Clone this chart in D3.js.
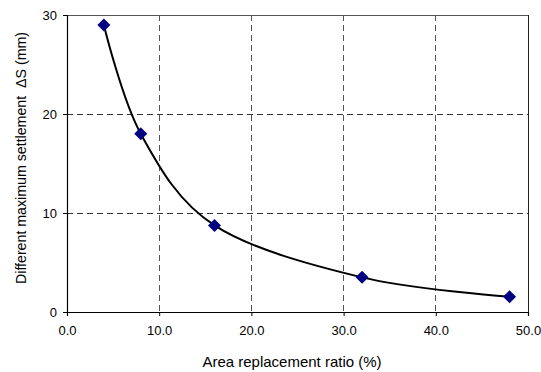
<!DOCTYPE html>
<html><head><meta charset="utf-8">
<script src="https://cdn.jsdelivr.net/npm/d3@7"></script>
<style>body{margin:0;background:#fff}svg{display:block}text{font-family:"Liberation Sans",Arial,sans-serif;fill:#000}</style>
</head><body>
<svg id="c" width="541" height="372"></svg>
<script>
const ratio = [4, 8, 16, 32, 48];
const settlement = [29.0, 18.0, 8.75, 3.5, 1.55];
const xTicks = [0, 10, 20, 30, 40, 50];
const yTicks = [0, 10, 20, 30];
const xTitle = "Area replacement ratio (%)";
const yTitle = "Different maximum settlement  \u0394S (mm)";

const svg = d3.select("#c");
const L = 67, R = 528, T = 15, B = 312;
const x = d3.scaleLinear().domain([0, 50]).range([L, R]);
const y = d3.scaleLinear().domain([0, 30]).range([B, T]);

// gridlines
svg.append("g").selectAll("line").data(yTicks.filter(d => d > 0 && d < 30)).join("line")
  .attr("x1", L).attr("x2", R).attr("y1", d => y(d)).attr("y2", d => y(d))
  .attr("stroke", "#333").attr("stroke-dasharray", "6,4").attr("shape-rendering", "crispEdges");
svg.append("g").selectAll("line").data(xTicks.filter(d => d > 0 && d < 50)).join("line")
  .attr("x1", d => x(d)).attr("x2", d => x(d)).attr("y1", T).attr("y2", B)
  .attr("stroke", "#555").attr("stroke-dasharray", "6,4").attr("shape-rendering", "crispEdges");

// border top/right
svg.append("line").attr("x1", L).attr("x2", R).attr("y1", T).attr("y2", T).attr("stroke", "#555").attr("shape-rendering", "crispEdges");
svg.append("line").attr("x1", R).attr("x2", R).attr("y1", T).attr("y2", B).attr("stroke", "#222").attr("shape-rendering", "crispEdges");

// axes
const xAxis = svg.append("g").attr("transform", `translate(0,${B})`)
  .call(d3.axisBottom(x).tickValues(xTicks).tickFormat(d3.format(".1f")).tickSizeOuter(0).tickSize(4).tickPadding(10));
const yAxis = svg.append("g").attr("transform", `translate(${L},0)`)
  .call(d3.axisLeft(y).tickValues(yTicks).tickFormat(d3.format("d")).tickSizeOuter(0).tickSize(4).tickPadding(6));
[xAxis, yAxis].forEach(g => {
  g.select(".domain").attr("stroke", "#000").attr("stroke-width", 1.2);
  g.selectAll(".tick line").attr("stroke", "#000");
  g.selectAll("text").attr("font-size", 13).attr("font-family", "'Liberation Sans',Arial,sans-serif").attr("fill", "#000");
});

// curve
const pts = ratio.map((r, i) => [r, settlement[i]]);
svg.append("path").datum(pts)
  .attr("d", d3.line().x(d => x(d[0])).y(d => y(d[1])).curve(d3.curveCardinal.tension(0)))
  .attr("fill", "none").attr("stroke", "#000").attr("stroke-width", 2);

// markers
svg.append("g").selectAll("path").data(pts).join("path")
  .attr("transform", d => `translate(${x(d[0])},${y(d[1])})`)
  .attr("d", "M0,-6.5L6.5,0L0,6.5L-6.5,0Z")
  .attr("fill", "#000080");

// titles
svg.append("text").attr("x", 292).attr("y", 367).attr("text-anchor", "middle")
  .attr("font-size", 15).text(xTitle);
svg.append("text").attr("transform", `translate(26,158) rotate(-90)`).attr("text-anchor", "middle")
  .attr("font-size", 14.2).attr("xml:space", "preserve").style("white-space", "pre").text(yTitle);
</script>
</body></html>
